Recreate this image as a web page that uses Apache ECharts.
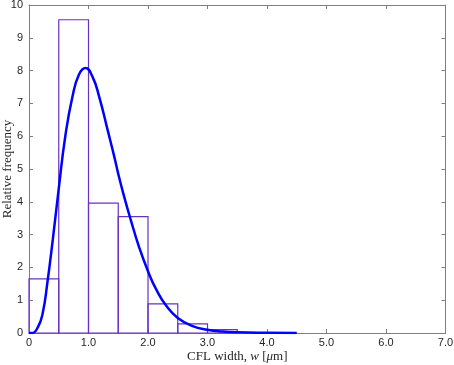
<!DOCTYPE html>
<html>
<head>
<meta charset="utf-8">
<script src="https://cdn.jsdelivr.net/npm/echarts@6/dist/echarts.min.js"></script>
<style>
html, body { margin: 0; padding: 0; background: #fff; }
#chart { width: 454px; height: 365px; }
</style>
</head>
<body>
<div id="chart"></div>
<script>
// histogram bins (left edge, right edge) and heights
var binStart = [0, 0.5, 1.0, 1.5, 2.0, 2.5, 3.0];
var binEnd = [0.5, 1.0, 1.5, 2.0, 2.5, 3.0, 3.5];
var binHeight = [1.65, 9.55, 3.96, 3.55, 0.89, 0.28, 0.1];

// fitted curve
var curveX = [0, 0.05, 0.15, 0.23, 0.31, 0.4, 0.5, 0.61, 0.73, 0.84, 0.95, 1.07, 1.18, 1.32, 1.43, 1.5, 1.6, 1.71, 1.85, 2.0, 2.14, 2.31, 2.5, 2.75, 3.0, 3.25, 3.5, 4.0, 4.5];
var curveY = [0, 0, 0.18, 0.6, 1.55, 2.85, 4.4, 6.0, 7.2, 7.88, 8.08, 7.8, 7.2, 6.2, 5.4, 4.85, 4.15, 3.45, 2.62, 1.88, 1.32, 0.82, 0.46, 0.21, 0.1, 0.045, 0.02, 0.005, 0];

function histogramChart(){
	var chart = echarts.init(document.getElementById('chart'));

	var histData = binStart.map(function (s, i) { return [s, binEnd[i], binHeight[i]]; });
	var curveData = curveX.map(function (x, i) { return [x, curveY[i]]; });

	var axisLine = { onZero: false, lineStyle: { color: '#7f7f7f', width: 1 } };
	var tickIn = { inside: true, length: 4, lineStyle: { color: '#7f7f7f' } };
	var labelStyle = { color: '#262626', fontFamily: 'Liberation Sans', fontSize: 11 };

	var option = {
		animation: false,
		grid: {
			left: 29,
			right: 8.5,
			top: 5,
			bottom: 32,
			containLabel: false,
			outerBoundsMode: 'none'
		},
		xAxis: [
			{
				type: 'value',
				min: 0,
				max: 7,
				interval: 1,
				axisLine: axisLine,
				axisTick: tickIn,
				splitLine: { show: false },
				axisLabel: Object.assign({
					margin: 4,
					formatter: function (v) { return v === 0 ? '0' : v.toFixed(1); }
				}, labelStyle),
				name: '{n|CFL width, }{i|w}{n| [}{i|μ}{n|m]}',
				nameLocation: 'middle',
				nameGap: 17,
				nameMoveOverlap: false,
				nameTextStyle: {
					rich: {
						n: { fontFamily: 'Liberation Serif', fontSize: 13, color: '#262626' },
						i: { fontFamily: 'Liberation Serif', fontSize: 13, fontStyle: 'italic', color: '#262626' }
					}
				}
			},
			{
				type: 'value',
				position: 'top',
				min: 0,
				max: 7,
				interval: 1,
				axisLine: axisLine,
				axisTick: tickIn,
				axisLabel: { show: false },
				splitLine: { show: false }
			}
		],
		yAxis: [
			{
				type: 'value',
				min: 0,
				max: 10,
				interval: 1,
				axisLine: axisLine,
				axisTick: tickIn,
				splitLine: { show: false },
				axisLabel: Object.assign({ margin: 6 }, labelStyle),
				name: 'Relative frequency',
				nameLocation: 'middle',
				nameGap: 15,
				nameMoveOverlap: false,
				nameTextStyle: { fontFamily: 'Liberation Serif', fontSize: 13, color: '#262626' }
			},
			{
				type: 'value',
				position: 'right',
				min: 0,
				max: 10,
				interval: 1,
				axisLine: axisLine,
				axisTick: tickIn,
				axisLabel: { show: false },
				splitLine: { show: false }
			}
		],
		series: [
			{
				type: 'custom',
				data: histData,
				encode: { x: [0, 1], y: 2 },
				renderItem: function (params, api) {
					var p0 = api.coord([api.value(0), 0]);
					var p1 = api.coord([api.value(1), api.value(2)]);
					return {
						type: 'rect',
						shape: { x: p0[0], y: p1[1], width: p1[0] - p0[0], height: p0[1] - p1[1] },
						style: { fill: 'none', stroke: '#6a30c4', lineWidth: 1.2 }
					};
				}
			},
			{
				type: 'line',
				data: curveData,
				smooth: 0.5,
				showSymbol: false,
				lineStyle: { color: '#0000ff', width: 2.5 },
				z: 5
			}
		]
	};

	chart.setOption(option);
}

histogramChart();
</script>
</body>
</html>
